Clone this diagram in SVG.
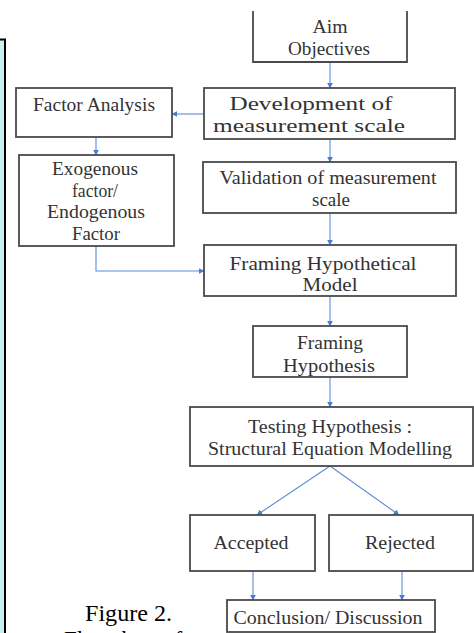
<svg xmlns="http://www.w3.org/2000/svg" width="474" height="633" viewBox="0 0 474 633">
<defs>
<style>
.box{fill:#fff;stroke:#4a4a4a;stroke-width:1.8}
text{font-family:'Liberation Serif','Times New Roman',Times,serif}
.t{font-size:19px;fill:#333;text-anchor:middle}
.c{stroke:#5b8bd6;stroke-width:1.1;fill:none;marker-end:url(#ah)}
.cap{font-size:23px;fill:#000}
</style>
<marker id="ah" viewBox="0 0 10 10" refX="9" refY="5" markerWidth="6" markerHeight="6" markerUnits="userSpaceOnUse" orient="auto">
<path d="M0,0 L10,5 L0,10 z" fill="#4a7bd0"/>
</marker>
</defs>
<rect width="474" height="633" fill="#fff"/>
<g id="sidebar">
<rect x="-5" y="39.5" width="10" height="620" fill="#c9f1f1" stroke="#000" stroke-width="2"/>
</g>
<g id="connectors">
<line class="c" x1="330" y1="62" x2="330" y2="88"/>
<line class="c" x1="204" y1="114" x2="172" y2="114"/>
<line class="c" x1="330" y1="139" x2="330" y2="162"/>
<line class="c" x1="96" y1="137" x2="96" y2="155"/>
<line class="c" x1="330" y1="213" x2="330" y2="245"/>
<polyline class="c" points="96,246 96,271 204,271"/>
<line class="c" x1="330" y1="296" x2="330" y2="326"/>
<line class="c" x1="330" y1="377" x2="330" y2="407"/>
<line class="c" x1="330" y1="466" x2="257" y2="515"/>
<line class="c" x1="330" y1="466" x2="399" y2="515"/>
<line class="c" x1="253" y1="571" x2="253" y2="600"/>
<line class="c" x1="402" y1="571" x2="402" y2="600"/>
</g>
<g id="aim">
<path d="M253,11 V62 H407 V11" fill="#fff" stroke="#4a4a4a" stroke-width="1.8"/>
<text class="t" x="330" y="33" textLength="35" lengthAdjust="spacingAndGlyphs">Aim</text>
<text class="t" x="329" y="55" textLength="82" lengthAdjust="spacingAndGlyphs">Objectives</text>
</g>
<g id="development">
<rect class="box" x="204" y="88" width="251" height="51"/>
<text class="t" x="311" y="110" textLength="163" lengthAdjust="spacingAndGlyphs">Development of</text>
<text class="t" x="309" y="132" textLength="192" lengthAdjust="spacingAndGlyphs">measurement scale</text>
</g>
<g id="factor-analysis">
<rect class="box" x="16" y="88" width="156" height="49"/>
<text class="t" x="94" y="111" textLength="122" lengthAdjust="spacingAndGlyphs">Factor Analysis</text>
</g>
<g id="exogenous">
<rect class="box" x="19" y="155" width="155" height="91"/>
<text class="t" x="95" y="175" textLength="86" lengthAdjust="spacingAndGlyphs">Exogenous</text>
<text class="t" x="95" y="197" textLength="46" lengthAdjust="spacingAndGlyphs">factor/</text>
<text class="t" x="96" y="218" textLength="98" lengthAdjust="spacingAndGlyphs">Endogenous</text>
<text class="t" x="96" y="240" textLength="48" lengthAdjust="spacingAndGlyphs">Factor</text>
</g>
<g id="validation">
<rect class="box" x="203" y="162" width="253" height="51"/>
<text class="t" x="328" y="184" textLength="217" lengthAdjust="spacingAndGlyphs">Validation of measurement</text>
<text class="t" x="331" y="206" textLength="38" lengthAdjust="spacingAndGlyphs">scale</text>
</g>
<g id="framing-model">
<rect class="box" x="204" y="245" width="252" height="51"/>
<text class="t" x="323" y="270" textLength="187" lengthAdjust="spacingAndGlyphs">Framing Hypothetical</text>
<text class="t" x="330" y="291" textLength="55" lengthAdjust="spacingAndGlyphs">Model</text>
</g>
<g id="framing-hypothesis">
<rect class="box" x="253" y="326" width="154" height="51"/>
<text class="t" x="330" y="349" textLength="66" lengthAdjust="spacingAndGlyphs">Framing</text>
<text class="t" x="329" y="372" textLength="92" lengthAdjust="spacingAndGlyphs">Hypothesis</text>
</g>
<g id="testing">
<rect class="box" x="190" y="407" width="283" height="59"/>
<text class="t" x="330" y="433" textLength="164" lengthAdjust="spacingAndGlyphs">Testing Hypothesis :</text>
<text class="t" x="330" y="455" textLength="244" lengthAdjust="spacingAndGlyphs">Structural Equation Modelling</text>
</g>
<g id="accepted">
<rect class="box" x="190" y="515" width="125" height="56"/>
<text class="t" x="251" y="549" textLength="75" lengthAdjust="spacingAndGlyphs">Accepted</text>
</g>
<g id="rejected">
<rect class="box" x="329" y="515" width="144" height="56"/>
<text class="t" x="400" y="549" textLength="70" lengthAdjust="spacingAndGlyphs">Rejected</text>
</g>
<g id="conclusion">
<rect class="box" x="227" y="600" width="208" height="32"/>
<text class="t" x="328" y="624" textLength="189" lengthAdjust="spacingAndGlyphs">Conclusion/ Discussion</text>
</g>
<g id="caption">
<text class="cap" x="85" y="621" textLength="87" lengthAdjust="spacingAndGlyphs">Figure 2.</text>
<text class="cap" x="64" y="647">Flowchart of</text>
</g>
</svg>
